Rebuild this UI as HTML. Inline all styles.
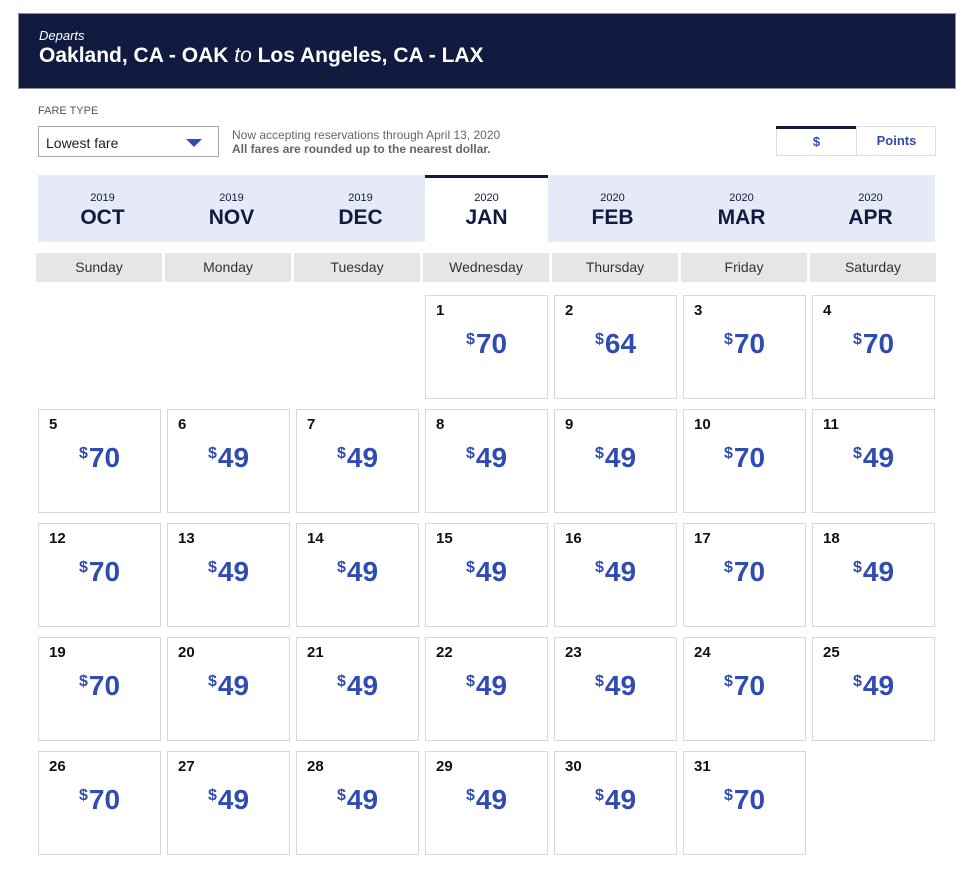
<!DOCTYPE html>
<html><head><meta charset="utf-8"><style>
*{box-sizing:border-box;margin:0;padding:0}
body{width:966px;height:884px;background:#fff;font-family:"Liberation Sans",Arial,sans-serif;position:relative;overflow:hidden}
.abs{position:absolute}
.hdr{left:18px;top:13px;width:938px;height:76px;background:#111b40;border:1px solid #8a8fa3;color:#fff}
.hdr .d{position:absolute;left:20px;top:14px;font-size:13px;font-style:italic}
.hdr .t{position:absolute;left:20px;top:30px;font-size:21px;font-weight:bold}
.tab{top:175px;height:67px;width:128px;background:#e6eaf6;text-align:center;color:#111b40}
.tab .y{font-size:11px;margin-top:17px}
.tab .m{font-size:21px;font-weight:bold;margin-top:2px}
.dh{top:253px;height:29px;width:126px;background:#e5e6e8;text-align:center;font-size:14px;color:#333;line-height:29px}
.c{width:123px;height:104px;border:1px solid #d8d8d8;background:#fff}
.c .n{position:absolute;left:10px;top:6px;font-size:15px;font-weight:bold;color:#111}
.c .p{position:absolute;left:0;right:0;top:32px;text-align:center;color:#304cb2;font-weight:bold;font-size:28px}
.c .p sup{font-size:16px;vertical-align:9px;margin-right:1px}
</style></head><body>
<div class="abs hdr"><div class="d">Departs</div><div class="t">Oakland, CA - OAK <i style="font-weight:normal">to</i> Los Angeles, CA - LAX</div></div>
<div class="abs" style="left:38px;top:105px;font-size:11px;color:#555">FARE TYPE</div>
<div class="abs" style="left:38px;top:126px;width:181px;height:31px;border:1px solid #aaa;font-size:14px;color:#222;padding:8px 0 0 7px">Lowest fare
<div class="abs" style="left:147px;top:12px;width:0;height:0;border-left:8px solid transparent;border-right:8px solid transparent;border-top:8px solid #304cb2"></div></div>
<div class="abs" style="left:232px;top:128px;font-size:12px;color:#666;line-height:14px">Now accepting reservations through April 13, 2020<br><b>All fares are rounded up to the nearest dollar.</b></div>
<div class="abs" style="left:776px;top:126px;width:160px;height:30px;border:1px solid #ddd"></div>
<div class="abs" style="left:776px;top:126px;width:81px;height:30px;border-top:3px solid #111b40;text-align:center;font-size:13px;font-weight:bold;color:#304cb2;line-height:25px">$</div>
<div class="abs" style="left:856px;top:126px;width:80px;height:30px;border-left:1px solid #ddd;text-align:center;font-size:13px;font-weight:bold;color:#304cb2;line-height:29px">Points</div>
<div id="g"></div>
<script>
var h='';
var ms=[['2019','OCT'],['2019','NOV'],['2019','DEC'],['2020','JAN'],['2020','FEB'],['2020','MAR'],['2020','APR']];
var tx=[38,167,296,425,548,677,806],tw=[129,129,129,123,129,129,129];
ms.forEach(function(m,i){var s=i==3?'background:#fff;border-top:3px solid #111b40;':'';h+='<div class="abs tab" style="left:'+tx[i]+'px;width:'+tw[i]+'px;'+s+'"><div class="y" style="'+(i==3?'margin-top:14px':'')+'">'+m[0]+'</div><div class="m">'+m[1]+'</div></div>';});
var ds=['Sunday','Monday','Tuesday','Wednesday','Thursday','Friday','Saturday'];
ds.forEach(function(d,i){h+='<div class="abs dh" style="left:'+(36+i*129)+'px">'+d+'</div>';});
var pr={1:70,2:64,3:70,4:70};
for(var d=1;d<=31;d++){var idx=d+2,col=idx%7,row=Math.floor(idx/7);var p=pr[d]||((col==0||col==5)?70:49);
h+='<div class="abs c" style="left:'+(38+col*129)+'px;top:'+(295+row*114)+'px"><div class="n">'+d+'</div><div class="p"><sup>$</sup>'+p+'</div></div>';}
document.getElementById('g').innerHTML=h;
</script>
</body></html>
